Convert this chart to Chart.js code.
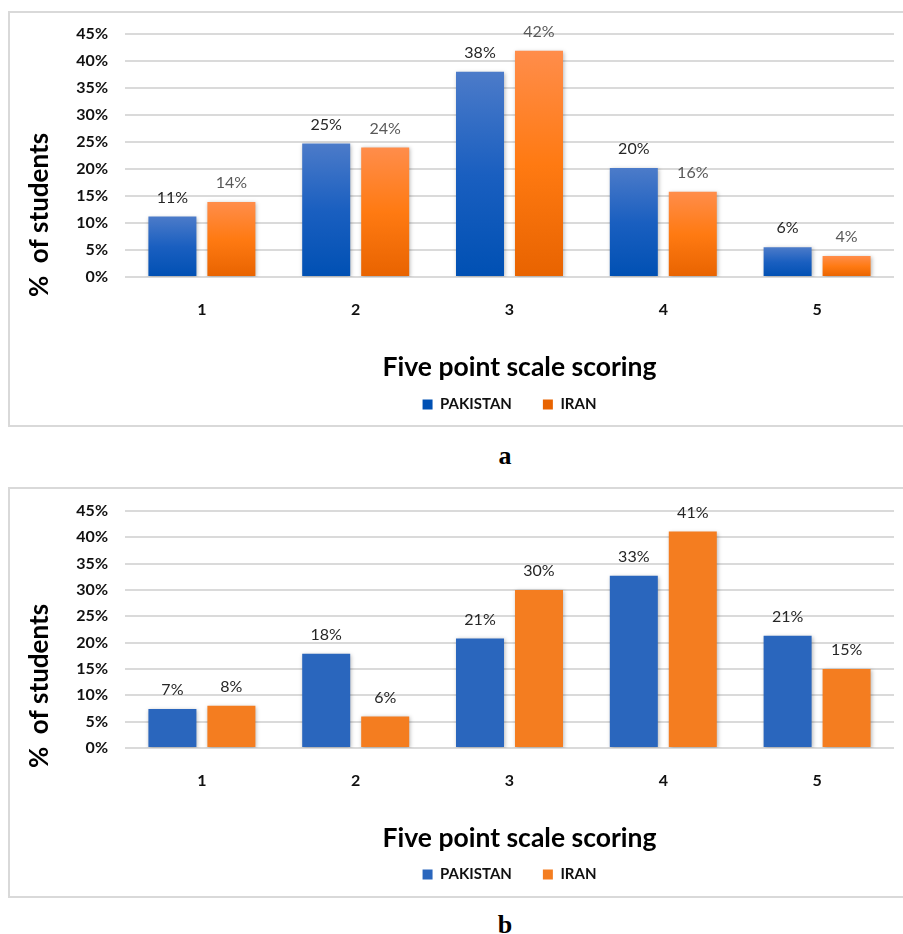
<!DOCTYPE html>
<html>
<head>
<meta charset="utf-8">
<title>Five point scale scoring</title>
<script src="https://cdn.jsdelivr.net/npm/chart.js@4.4.1/dist/chart.umd.min.js"></script>
<style>
    html, body { margin: 0; padding: 0; background: #fff; width: 903px; height: 934px; overflow: hidden; }
    .box { position: absolute; left: 8px; width: 1000px; border: 2px solid #d9d9d9; box-sizing: border-box; }
    #boxA { top: 11px; height: 416px; }
    #boxB { top: 487px; height: 411px; }
    .box canvas { position: absolute; left: 0; top: 0; }
    .caption { position: absolute; left: 455px; width: 100px; text-align: center; font-family: "Liberation Serif", "DejaVu Serif", serif; font-weight: bold; font-size: 26px; line-height: 26px; color: #000; }
</style>
</head>
<body>
<div class="box" id="boxA"><canvas id="chartA" width="893" height="412"></canvas></div>
<div class="caption" style="top:443px;">a</div>
<div class="box" id="boxB"><canvas id="chartB" width="893" height="407"></canvas></div>
<div class="caption" style="top:912px;">b</div>

<script>
const categories = ["1", "2", "3", "4", "5"];
const seriesNames = ["PAKISTAN", "IRAN"];
const yTickValues = [0, 5, 10, 15, 20, 25, 30, 35, 40, 45];

// chart a
const pakistanA = [11.2, 24.7, 38.0, 20.2, 5.5];
const iranA = [13.9, 24.0, 41.9, 15.8, 3.9];

// chart b
const pakistanB = [7.4, 17.9, 20.8, 32.7, 21.3];
const iranB = [8.0, 6.0, 30.0, 41.1, 15.0];

const xTitle = "Five point scale scoring";
const yTitle = "%  of students";

Chart.defaults.font.family = "Lato, 'Open Sans', sans-serif";
Chart.defaults.color = "#000";

function barGradient(colors, fallback) {
    return function (context) {
        const chart = context.chart;
        if (!chart.chartArea || context.raw == null || !chart.scales.y) return fallback;
        const yScale = chart.scales.y;
        const yTop = yScale.getPixelForValue(context.raw);
        const yBottom = yScale.getPixelForValue(0);
        const g = chart.ctx.createLinearGradient(0, yTop, 0, yBottom);
        g.addColorStop(0, colors[0]);
        g.addColorStop(0.5, colors[1]);
        g.addColorStop(1, colors[2]);
        return g;
    };
}

const barDecor = {
    id: "barDecor",
    beforeDatasetsDraw(chart) {
        const ctx = chart.ctx;
        ctx.save();
        ctx.shadowColor = "rgba(0,0,0,0.28)";
        ctx.shadowBlur = 4;
        ctx.shadowOffsetX = 1;
        ctx.shadowOffsetY = 1;
    },
    afterDatasetsDraw(chart, args, opts) {
        const ctx = chart.ctx;
        ctx.restore();
        ctx.save();
        ctx.font = "16px Lato";
        ctx.textAlign = "center";
        ctx.textBaseline = "middle";
        chart.data.datasets.forEach((ds, i) => {
            ctx.fillStyle = opts.labelColors[i];
            chart.getDatasetMeta(i).data.forEach((bar, j) => {
                ctx.fillText(Math.round(ds.data[j]) + "%", bar.x, bar.y - 19);
            });
        });
        ctx.restore();
    },
    afterDraw(chart, args, opts) {
        const ctx = chart.ctx;
        const area = chart.chartArea;
        ctx.save();
        ctx.fillStyle = "#000";
        ctx.textAlign = "center";
        ctx.textBaseline = "middle";
        ctx.font = "bold 26.5px Lato";
        ctx.fillText(xTitle, (area.left + area.right) / 2 + 10, area.bottom + 90);
        ctx.translate(30, area.bottom - 62);
        ctx.rotate(-Math.PI / 2);
        ctx.font = "bold 26px Lato";
        ctx.fillText(yTitle, 0, 0);
        ctx.restore();
    }
};

function makeChart(canvasId, pakistan, iran, style) {
    const ctx = document.getElementById(canvasId).getContext("2d");
    return new Chart(ctx, {
        type: "bar",
        data: {
            labels: categories,
            datasets: [
                {
                    label: seriesNames[0],
                    data: pakistan,
                    backgroundColor: style.blue,
                    borderWidth: 0
                },
                {
                    label: seriesNames[1],
                    data: iran,
                    backgroundColor: style.orange,
                    borderWidth: 0
                }
            ]
        },
        options: {
            responsive: false,
            maintainAspectRatio: false,
            animation: false,
            categoryPercentage: 0.767,
            barPercentage: 0.814,
            layout: {
                padding: { left: 0, right: 9, top: style.top, bottom: style.bottom }
            },
            plugins: {
                legend: {
                    position: "bottom",
                    fullSize: false,
                    labels: {
                        boxWidth: 10,
                        boxHeight: 10,
                        padding: 31,
                        color: "#111",
                        font: { size: 15, weight: "bold" }
                    }
                },
                tooltip: { enabled: false },
                barDecor: { labelColors: style.labelColors }
            },
            scales: {
                x: {
                    grid: { display: false },
                    border: { display: false },
                    ticks: {
                        padding: 15,
                        color: "#111",
                        font: { size: 16, weight: "bold" }
                    },
                    afterFit: (scale) => { scale.height = style.xAxisHeight; }
                },
                y: {
                    min: 0,
                    max: 45,
                    afterBuildTicks: (scale) => { scale.ticks = yTickValues.map(v => ({ value: v })); },
                    grid: { color: "#dadada", lineWidth: 2, drawTicks: false },
                    border: { display: false },
                    ticks: {
                        padding: 17,
                        color: "#111",
                        font: { size: 16, weight: "bold" },
                        callback: (value) => value + "%"
                    },
                    afterFit: (scale) => {
                        scale.width = 115;
                        scale.paddingTop = 0;
                        scale.paddingBottom = 0;
                    }
                }
            }
        },
        plugins: [barDecor]
    });
}

makeChart("chartA", pakistanA, iranA, {
    blue: barGradient(["#4c7bc9", "#1a5fc0", "#0050b3"], "#1f5cc0"),
    orange: barGradient(["#ff8d4b", "#ff7a12", "#e86300"], "#f27a26"),
    labelColors: ["#262626", "#595959"],
    top: 21,
    bottom: 3,
    xAxisHeight: 89
});

makeChart("chartB", pakistanB, iranB, {
    blue: "#2a66bd",
    orange: "#f47d20",
    labelColors: ["#262626", "#262626"],
    top: 22,
    bottom: 4,
    xAxisHeight: 88
});
</script>
</body>
</html>
